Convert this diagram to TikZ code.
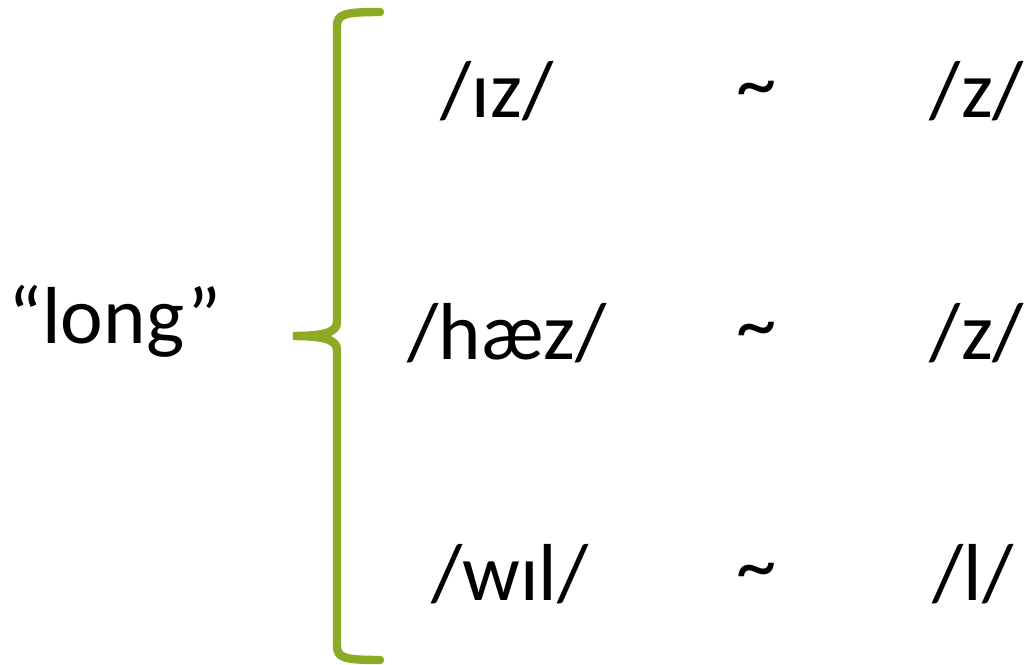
\documentclass[tikz,border=0pt]{standalone}
\usepackage{fontspec}
\setmainfont{Carlito}
\definecolor{braceolive}{RGB}{140,170,35}

\begin{document}
\begin{tikzpicture}[x=0.02cm,y=-0.02cm,
  txt/.style={anchor=base,inner sep=0pt,font=\fontsize{46}{55}\selectfont},
  tilde/.style={txt,yshift=4pt}]
  \useasboundingbox (0,0) rectangle (1030,665);
  % brace
  \draw[braceolive,line width=4.8pt,line cap=round]
    (380,12) .. controls (345,12) and (337,14) .. (337,26) -- (337,322)
    .. controls (337,332) and (325,336) .. (293,336)
    .. controls (325,336) and (337,340) .. (337,350) -- (337,646)
    .. controls (337,658) and (345,660) .. (380,660);
  \node[txt] (long) at (115,343) {“long”};
  % rows
  \node[txt] (iz) at (497,118) {/ɪz/};
  \node[tilde] (t1) at (757,118) {\char`\~};
  \node[txt] (z1) at (977,118) {/z/};
  \node[txt] (haez) at (507,359) {/hæz/};
  \node[tilde] (t2) at (757,359) {\char`\~};
  \node[txt] (z2) at (977,359) {/z/};
  \node[txt] (wil) at (510,600) {/wɪl/};
  \node[tilde] (t3) at (757,600) {\char`\~};
  \node[txt] (l3) at (973,600) {/l/};
\end{tikzpicture}
\end{document}
